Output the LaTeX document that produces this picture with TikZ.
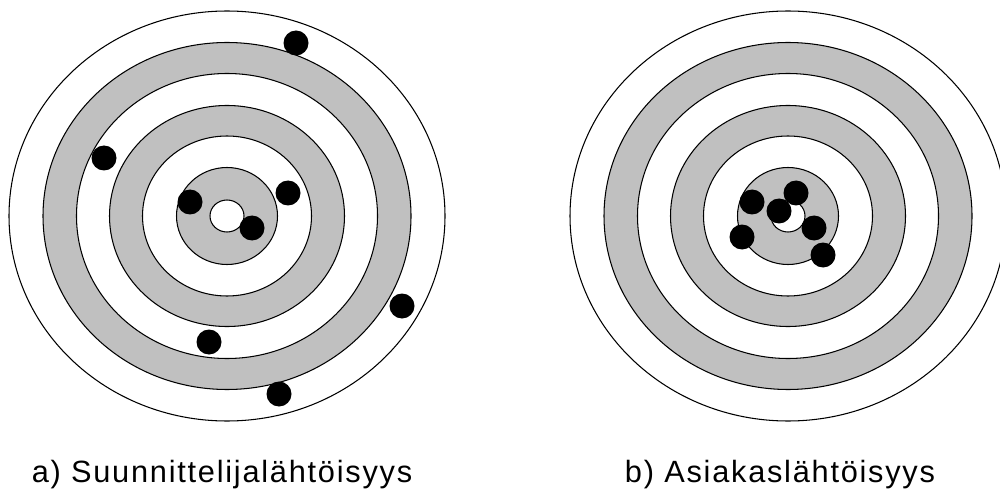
\documentclass[tikz,border=0pt]{standalone}
\usepackage{fontspec}
\setmainfont{Liberation Sans}
\newfontfamily\capfont[LetterSpace=5.7]{Liberation Sans}
\definecolor{ringgray}{RGB}{192,192,192}

\begin{document}
\begin{tikzpicture}[
  x=0.02cm, y=-0.02cm,
  ring/.style={draw=black, line width=0.6pt},
  hit/.style={fill=black},
  caption/.style={anchor=base, inner sep=0pt, font=\capfont\fontsize{17.5}{21}\selectfont}
]
\useasboundingbox (0,0) rectangle (1000,493);

% two targets, rings drawn from the outside in
\foreach \cx/\tname in {227/left, 788/right} {
  \coordinate (\tname) at (\cx,216);
  \foreach \rx/\ry/\col in {218/205/white, 184/173.5/ringgray, 150.5/142.5/white,
                            117.5/110.5/ringgray, 84.5/80/white, 50.5/48.5/ringgray, 17/16/white}
    \path[ring, fill=\col] (\tname) ellipse [x radius=\rx, y radius=\ry];
}

% hits, a)
\foreach \hx/\hy in {296/43, 104/158, 190/202, 288/193, 252/228, 402/306, 209/342, 279/394}
  \fill[hit] (\hx,\hy) circle [radius=12.5];
% hits, b)
\foreach \hx/\hy in {752/202, 796/193, 779/211, 814/228, 742/237, 823/255}
  \fill[hit] (\hx,\hy) circle [radius=12.5];

\node[caption] (capa) at (222,482) {a) Suunnittelijalähtöisyys};
\node[caption] (capb) at (780,482) {b) Asiakaslähtöisyys};
\end{tikzpicture}
\end{document}
